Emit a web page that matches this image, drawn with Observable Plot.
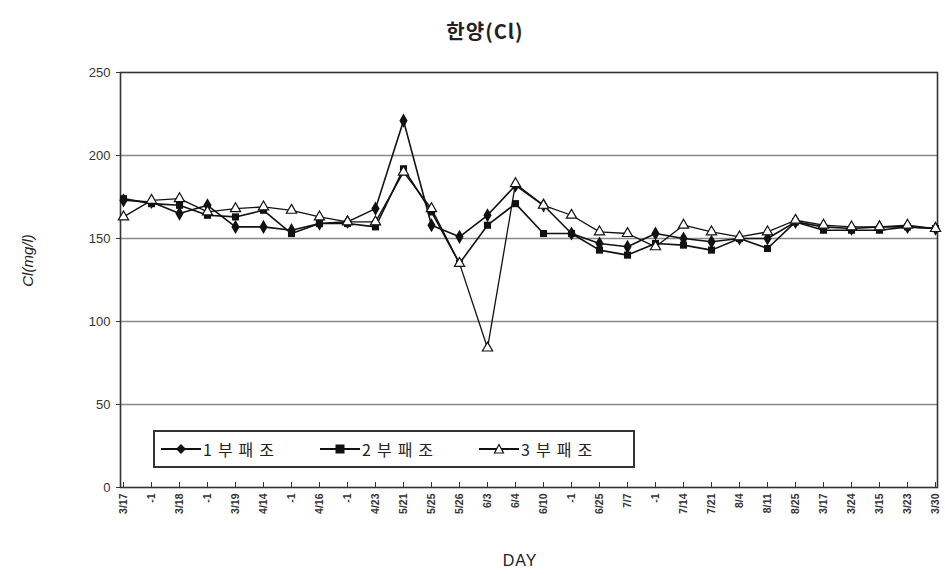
<!DOCTYPE html>
<html><head><meta charset="utf-8">
<script src="https://cdn.jsdelivr.net/npm/d3@7"></script>
<script src="https://cdn.jsdelivr.net/npm/@observablehq/plot@0.6"></script>
<style>
body{margin:0;background:#fff;font-family:"Liberation Sans",Arial,sans-serif;}
#wrap{position:relative;width:945px;height:574px;}
#title{position:absolute;left:0;width:970px;top:16px;text-align:center;font:bold 20px "Noto Sans CJK KR","Liberation Sans",sans-serif;color:#222;letter-spacing:1px;}
#ylab{position:absolute;left:-13px;top:252px;width:80px;text-align:center;transform:rotate(-90deg);font:italic 15px "Liberation Sans",Arial,sans-serif;color:#222;}
#xlab{position:absolute;left:470px;top:552px;width:100px;text-align:center;font:16px "Liberation Sans",Arial,sans-serif;color:#222;letter-spacing:1px;}
#legend{position:absolute;left:153px;top:430px;width:478px;height:34px;border:2px solid #333;background:#fff;display:flex;align-items:center;font:16px "Noto Sans CJK KR",sans-serif;color:#222;letter-spacing:6px;}
#legend span{display:inline-flex;align-items:center;margin-left:6px;margin-right:34px;}
#legend svg{margin-right:2px;}
</style></head>
<body><div id="wrap"><div id="chart"></div>
<div id="title">한양(Cl)</div>
<div id="ylab">Cl(mg/l)</div>
<div id="xlab">DAY</div>
<div id="legend"></div>
</div>
<script>
const days = ["3/17","-1","3/18","-1","3/19","4/14","-1","4/16","-1","4/23","5/21","5/25","5/26","6/3","6/4","6/10","-1","6/25","7/7","-1","7/14","7/21","8/4","8/11","8/25","3/17","3/24","3/15","3/23","3/30"];
const series1 = [173,172,165,170,157,157,155,159,160,168,221,158,151,164,182,170,153,147,145,153,150,148,150,150,160,157,156,157,157,156];
const series2 = [174,171,170,164,163,167,153,159,159,157,192,166,135,158,171,153,153,143,140,147,146,143,150,144,160,155,155,155,157,156];
const series3 = [163,173,174,166,168,169,167,163,160,160,190,168,135,84,183,170,164,154,153,145,158,154,151,154,161,158,157,157,158,156];
const seriesNames = ["1부패조","2부패조","3부패조"];
const yTicks = [0,50,100,150,200,250];
const gridVals = [50,100,150,200];

const idx = days.map((d,i)=>i);
const rows = (vals) => vals.map((v,i)=>({i, v}));
const r1 = rows(series1), r2 = rows(series2), r3 = rows(series3);

const chart = Plot.plot({
  width:945, height:574,
  marginLeft:120, marginRight:8, marginTop:72, marginBottom:87,
  style:{fontFamily:"Liberation Sans, Arial, sans-serif", fontSize:"13px", color:"#333", background:"#fff"},
  x:{type:"point", domain:idx, padding:0, axis:null},
  y:{domain:[0,250], axis:null},
  marks:[
    Plot.ruleY(gridVals,{stroke:"#888", strokeWidth:1.3}),
    Plot.frame({stroke:"#333", strokeWidth:1.6}),
    Plot.ruleX(idx,{x:d=>d, y1:0, y2:3, stroke:"#333"}),
    Plot.axisY(yTicks,{tickSize:4, tickPadding:6, fontSize:13, label:null}),
    Plot.axisX(idx,{tickSize:0, tickPadding:6, tickRotate:-90, fontSize:10.5, fontWeight:"bold", tickFormat:i=>days[i], label:null}),
    Plot.line(r1,{x:"i", y:"v", stroke:"#111", strokeWidth:1.6}),
    Plot.line(r2,{x:"i", y:"v", stroke:"#111", strokeWidth:1.6}),
    Plot.line(r3,{x:"i", y:"v", stroke:"#111", strokeWidth:1.3}),
    Plot.dot(r1,{x:"i", y:"v", symbol:"diamond", r:4.3, fill:"#111"}),
    Plot.dot(r2,{x:"i", y:"v", symbol:"square", r:4, fill:"#111"}),
    Plot.dot(r3,{x:"i", y:"v", symbol:"triangle", r:3.8, fill:"#fff", stroke:"#111", strokeWidth:1.2})
  ]
});
document.getElementById("chart").appendChild(chart);

const lg = document.getElementById("legend");
const markerSvg = [
  '<path d="M20,5 L25,10 L20,15 L15,10 Z" fill="#111"/>',
  '<rect x="15.5" y="5.5" width="9" height="9" fill="#111"/>',
  '<path d="M20,5.5 L24.5,14 L15.5,14 Z" fill="#fff" stroke="#111" stroke-width="1.2"/>'
];
seriesNames.forEach((n,k)=>{
  const s = document.createElement("span");
  s.innerHTML = '<svg width="40" height="20"><line x1="0" y1="10" x2="40" y2="10" stroke="#111" stroke-width="1.8"/>'+markerSvg[k]+'</svg>'+n;
  lg.appendChild(s);
});
</script>
</body></html>
